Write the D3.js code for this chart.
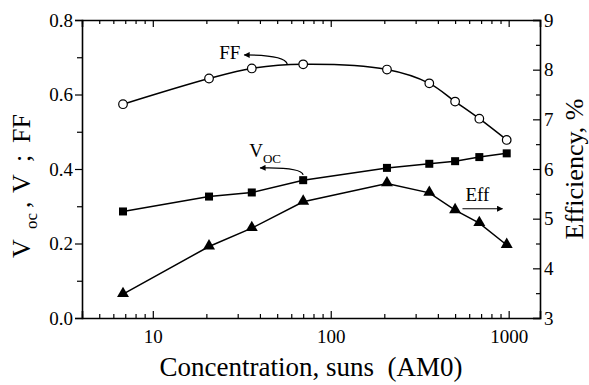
<!DOCTYPE html>
<html>
<head>
<meta charset="utf-8">
<script src="https://cdn.jsdelivr.net/npm/d3@7"></script>
<style>
  body { margin: 0; background: #fff; }
  svg text { font-family: "Liberation Serif", "Times New Roman", Tinos, "DejaVu Serif", serif; fill: #000; }
</style>
</head>
<body>
<div id="chart"></div>
<script>
// concentration (suns, AM0)
var conc = [6.8, 20.7, 36, 70, 207, 358, 500, 684, 975];
// fill factor and open circuit voltage (left axis)
var ff = [0.574, 0.643, 0.670, 0.681, 0.667, 0.630, 0.581, 0.535, 0.478];
var voc = [0.286, 0.326, 0.337, 0.370, 0.403, 0.414, 0.421, 0.432, 0.442];
// efficiency, % (right axis)
var eff = [3.48, 4.44, 4.81, 5.34, 5.71, 5.52, 5.17, 4.91, 4.47];

var xMajor = [10, 100, 1000];
var xMinor = [4, 5, 6, 7, 8, 9, 20, 30, 40, 50, 60, 70, 80, 90, 200, 300, 400, 500, 600, 700, 800, 900];
var yMajor = [0.0, 0.2, 0.4, 0.6, 0.8];
var yMinor = [0.1, 0.3, 0.5, 0.7];
var y2Major = [3, 4, 5, 6, 7, 8, 9];
var y2Minor = [3.5, 4.5, 5.5, 6.5, 7.5, 8.5];

var serif = "Liberation Serif, Times New Roman, Tinos, DejaVu Serif, serif";

function init() {
    var W = 589, H = 385;
    var margin = {left: 82, top: 20, right: 49, bottom: 67};
    var width = W - margin.left - margin.right;
    var height = H - margin.top - margin.bottom;

    var x = d3.scaleLog().domain([4, 1500]).range([0, width]);
    var y = d3.scaleLinear().domain([0, 0.8]).range([height, 0]);
    var y2 = d3.scaleLinear().domain([3, 9]).range([height, 0]);

    var svg = d3.select("#chart").append("svg")
        .attr("width", W).attr("height", H)
        .attr("font-family", serif);

    svg.append("defs").append("marker")
        .attr("id", "arr")
        .attr("viewBox", "0 0 10 10")
        .attr("refX", 9).attr("refY", 5)
        .attr("markerWidth", 9).attr("markerHeight", 6)
        .attr("markerUnits", "userSpaceOnUse")
        .attr("orient", "auto")
        .append("path").attr("d", "M0,0 L10,5 L0,10 Z").attr("fill", "#000");

    var g = svg.append("g")
        .attr("transform", "translate(" + margin.left + "," + margin.top + ")");

    function noLabels(ax) { return ax.tickFormat(""); }

    // bottom axis: inward ticks
    g.append("g").attr("transform", "translate(0," + height + ")")
        .call(d3.axisBottom(x).tickValues(xMajor).tickSize(-7).tickPadding(12)
            .tickFormat(d3.format("d")));
    g.append("g").attr("transform", "translate(0," + height + ")")
        .call(noLabels(d3.axisBottom(x).tickValues(xMinor).tickSize(-4)))
        .select(".domain").remove();
    // top axis
    g.append("g")
        .call(noLabels(d3.axisTop(x).tickValues(xMajor).tickSize(-7)));
    g.append("g")
        .call(noLabels(d3.axisTop(x).tickValues(xMinor).tickSize(-4)))
        .select(".domain").remove();

    // left axis: outward ticks
    g.append("g")
        .call(d3.axisLeft(y).tickValues(yMajor).tickSize(7).tickPadding(2)
            .tickFormat(d3.format(".1f")));
    g.append("g")
        .call(noLabels(d3.axisLeft(y).tickValues(yMinor).tickSize(5)))
        .select(".domain").remove();

    // right axis: inward ticks
    g.append("g").attr("transform", "translate(" + width + ",0)")
        .call(d3.axisRight(y2).tickValues(y2Major).tickSize(-7).tickPadding(4)
            .tickFormat(d3.format("d")));
    g.append("g").attr("transform", "translate(" + width + ",0)")
        .call(noLabels(d3.axisRight(y2).tickValues(y2Minor).tickSize(-4)))
        .select(".domain").remove();

    g.selectAll("g").filter(function () { return this.hasAttribute("font-family"); })
        .attr("font-family", serif).attr("font-size", 19);
    g.selectAll(".tick text").attr("font-family", serif).attr("font-size", 19);
    g.selectAll(".domain").attr("stroke", "#000").attr("stroke-width", 1.6);
    g.selectAll(".tick line").attr("stroke", "#000").attr("stroke-width", 1.2);

    // series
    var ffData = conc.map(function (c, i) { return {c: c, v: ff[i]}; });
    var vocData = conc.map(function (c, i) { return {c: c, v: voc[i]}; });
    var effData = conc.map(function (c, i) { return {c: c, v: eff[i]}; });

    var lineFF = d3.line().curve(d3.curveCatmullRom.alpha(0.5))
        .x(function (d) { return x(d.c); }).y(function (d) { return y(d.v); });
    var lineVoc = d3.line()
        .x(function (d) { return x(d.c); }).y(function (d) { return y(d.v); });
    var lineEff = d3.line()
        .x(function (d) { return x(d.c); }).y(function (d) { return y2(d.v); });

    g.append("path").datum(ffData).attr("d", lineFF)
        .attr("fill", "none").attr("stroke", "#000").attr("stroke-width", 1.5);
    g.append("path").datum(vocData).attr("d", lineVoc)
        .attr("fill", "none").attr("stroke", "#000").attr("stroke-width", 1.5);
    g.append("path").datum(effData).attr("d", lineEff)
        .attr("fill", "none").attr("stroke", "#000").attr("stroke-width", 1.5);

    g.selectAll(".ffpt").data(ffData).enter().append("circle")
        .attr("cx", function (d) { return x(d.c); })
        .attr("cy", function (d) { return y(d.v); })
        .attr("r", 4.3)
        .attr("fill", "#fff").attr("stroke", "#000").attr("stroke-width", 1.2);

    g.selectAll(".vocpt").data(vocData).enter().append("rect")
        .attr("x", function (d) { return x(d.c) - 4; })
        .attr("y", function (d) { return y(d.v) - 4; })
        .attr("width", 8).attr("height", 8)
        .attr("fill", "#000");

    var tri = d3.symbol().type(d3.symbolTriangle).size(62);
    g.selectAll(".effpt").data(effData).enter().append("path")
        .attr("d", tri)
        .attr("transform", function (d) {
            return "translate(" + x(d.c) + "," + (y2(d.v) - 0.5) + ")";
        })
        .attr("fill", "#000");

    // annotations
    var fx = x(57), fy = y(0.682);
    g.append("path")
        .attr("d", "M" + fx + "," + fy + " Q" + (fx - 3) + "," + (fy - 9) + " " + (fx - 43) + "," + (fy - 9))
        .attr("fill", "none").attr("stroke", "#000").attr("stroke-width", 1.2)
        .attr("marker-end", "url(#arr)");
    g.append("text").attr("x", fx - 68).attr("y", fy - 5)
        .attr("font-family", serif).attr("font-size", 19).text("FF");

    var vx = x(70), vy = y(0.384);
    g.append("path")
        .attr("d", "M" + vx + "," + vy + " Q" + (vx - 2) + "," + (vy - 8) + " " + (vx - 43) + "," + (vy - 7))
        .attr("fill", "none").attr("stroke", "#000").attr("stroke-width", 1.2)
        .attr("marker-end", "url(#arr)");
    var vt = g.append("text").attr("x", vx - 54).attr("y", vy - 18)
        .attr("font-family", serif).attr("font-size", 19);
    vt.append("tspan").text("V");
    vt.append("tspan").attr("dy", 6).attr("font-size", 13).text("OC");

    var ex = x(550), ey = y2(5.2);
    g.append("path")
        .attr("d", "M" + ex + "," + ey + " L" + (ex + 40) + "," + ey)
        .attr("fill", "none").attr("stroke", "#000").attr("stroke-width", 1.2)
        .attr("marker-end", "url(#arr)");
    g.append("text").attr("x", ex + 3).attr("y", ey - 8)
        .attr("font-family", serif).attr("font-size", 19).text("Eff");

    // axis titles
    svg.append("text")
        .attr("x", margin.left + width / 2).attr("y", 376)
        .attr("text-anchor", "middle")
        .attr("font-family", serif).attr("font-size", 27)
        .text("Concentration, suns\u00A0 (AM0)");

    // left title, laid out along the rotated axis (x' = -y on screen)
    var yl = svg.append("text")
        .attr("transform", "translate(30,0) rotate(-90)")
        .attr("font-family", serif).attr("font-size", 26);
    yl.append("tspan").attr("x", -258).attr("y", 0).text("V");
    yl.append("tspan").attr("x", -229).attr("y", 7).attr("font-size", 17).text("oc");
    yl.append("tspan").attr("x", -208).attr("y", 0).text(",");
    yl.append("tspan").attr("x", -193).attr("y", 0).text("V");
    yl.append("tspan").attr("x", -162).attr("y", 0).text(";");
    yl.append("tspan").attr("x", -143).attr("y", 0).text("FF");

    svg.append("text")
        .attr("transform", "translate(583," + (margin.top + height / 2) + ") rotate(-90)")
        .attr("text-anchor", "middle")
        .attr("font-family", serif).attr("font-size", 26)
        .text("Efficiency, %");
}
init();
</script>
</body>
</html>
